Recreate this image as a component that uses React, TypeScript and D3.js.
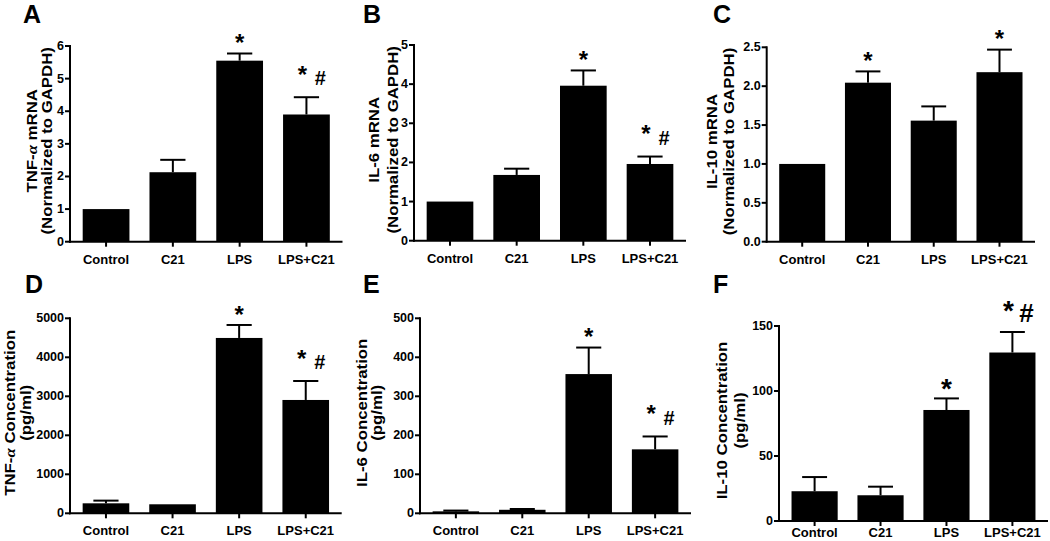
import React from 'react'
import * as d3 from 'd3'

const categories = ['Control', 'C21', 'LPS', 'LPS+C21']

// A: TNF-a mRNA
const tnfMrnaMean = [1.0, 2.13, 5.55, 3.9]
const tnfMrnaSem = [0, 0.38, 0.22, 0.53]
const tnfMrnaSig = ['', '', '*', '*#']
const tnfMrnaTicks = [0, 1, 2, 3, 4, 5, 6]

// B: IL-6 mRNA
const il6MrnaMean = [1.0, 1.68, 3.96, 1.96]
const il6MrnaSem = [0, 0.16, 0.39, 0.19]
const il6MrnaSig = ['', '', '*', '*#']
const il6MrnaTicks = [0, 1, 2, 3, 4, 5]

// C: IL-10 mRNA
const il10MrnaMean = [1.0, 2.045, 1.557, 2.18]
const il10MrnaSem = [0, 0.145, 0.183, 0.29]
const il10MrnaSig = ['', '*', '', '*']
const il10MrnaTicks = [0, 0.5, 1.0, 1.5, 2.0, 2.5]

// D: TNF-a concentration
const tnfConcMean = [256, 231, 4496, 2906]
const tnfConcSem = [69, 0, 333, 487]
const tnfConcSig = ['', '', '*', '*#']
const tnfConcTicks = [0, 1000, 2000, 3000, 4000, 5000]

// E: IL-6 concentration
const il6ConcMean = [5, 9, 357, 164]
const il6ConcSem = [2, 2, 68, 33]
const il6ConcSig = ['', '', '*', '*#']
const il6ConcTicks = [0, 100, 200, 300, 400, 500]

// F: IL-10 concentration
const il10ConcMean = [22.9, 19.8, 85.4, 129.6]
const il10ConcSem = [10.9, 6.6, 8.9, 15.8]
const il10ConcSig = ['', '', '*', '*#']
const il10ConcTicks = [0, 50, 100, 150]

const FONT = '"Liberation Sans", Arial, Helvetica, sans-serif'

const labelLine = (line: string) =>
  line.split(/(α)/).map((part, i) =>
    part === 'α' ? (
      <tspan key={i} fontStyle="italic" fontFamily='"Liberation Serif", serif'>α</tspan>
    ) : (
      <tspan key={i}>{part}</tspan>
    )
  )

const Panel = ({ letter, letterXY, means, sems, sig, ticks, fmt, ylabel, labelX, box, starSize = 24, hashSize = 20, catDy = 22 }: any) => {
  const x = d3.scaleBand().domain(categories).range([box.left, box.right]).paddingInner(0.3).paddingOuter(0.19)
  const y = d3.scaleLinear().domain([0, ticks[ticks.length - 1]]).range([box.bottom, box.top])
  const bw = x.bandwidth()
  const cap = bw * 0.27
  const midY = (box.top + box.bottom) / 2 - 3

  return (
    <g fontFamily={FONT} fontWeight="bold" fill="#000">
      <text x={letterXY[0]} y={letterXY[1]} fontSize={25}>{letter}</text>

      {/* y axis label, stretched along its length like the original */}
      {ylabel.map((line: string, i: number) => (
        <g key={i} transform={`translate(${labelX[i]},${midY}) rotate(-90) scale(1.2,1)`}>
          <text x={0} y={0} fontSize={14} textAnchor="middle" dominantBaseline="central">
            {labelLine(line)}
          </text>
        </g>
      ))}

      {/* bars */}
      {categories.map((c, i) => (
        <rect key={c} x={x(c)} y={y(means[i])} width={bw} height={y(0) - y(means[i])} fill="#000" />
      ))}

      {/* error bars (upper only) */}
      {categories.map((c, i) => {
        if (!sems[i]) return null
        const cx = x(c)! + bw / 2
        const top = y(means[i] + sems[i])
        return (
          <g key={c} stroke="#000" strokeWidth={2}>
            <line x1={cx} x2={cx} y1={y(means[i])} y2={top} />
            <line x1={cx - cap} x2={cx + cap} y1={top} y2={top} />
          </g>
        )
      })}

      {/* significance marks */}
      {categories.map((c, i) => {
        const s = sig[i]
        if (!s) return null
        const cx = x(c)! + bw / 2
        const top = y(means[i] + sems[i])
        if (s === '*') {
          return (
            <text key={c} x={cx} y={top - 16 + starSize * 0.57} fontSize={starSize} textAnchor="middle">*</text>
          )
        }
        return (
          <g key={c}>
            <text x={cx - 4} y={top - 28 + starSize * 0.57} fontSize={starSize} textAnchor="middle">*</text>
            <text x={cx + 14} y={top - 19 + hashSize * 0.36} fontSize={hashSize} textAnchor="middle">#</text>
          </g>
        )
      })}

      {/* axes */}
      <g stroke="#000" strokeWidth={2} fill="none">
        <line x1={box.left} x2={box.left} y1={box.top - 1} y2={box.bottom + 1} />
        <line x1={box.left - 1} x2={box.right} y1={box.bottom} y2={box.bottom} />
        {ticks.map((t: number) => (
          <line key={t} x1={box.left - 5} x2={box.left} y1={y(t)} y2={y(t)} />
        ))}
        {categories.map((c) => (
          <line key={c} x1={x(c)! + bw / 2} x2={x(c)! + bw / 2} y1={box.bottom} y2={box.bottom + 5} />
        ))}
      </g>
      {ticks.map((t: number) => (
        <text key={t} x={box.left - 6} y={y(t)} fontSize={12.5} textAnchor="end" dominantBaseline="central">
          {fmt(t)}
        </text>
      ))}
      {categories.map((c) => (
        <text key={c} x={x(c)! + bw / 2} y={box.bottom + catDy} fontSize={13} textAnchor="middle">{c}</text>
      ))}
    </g>
  )
}

const intFmt = d3.format('d')
const decFmt = d3.format('.1f')

export default function App() {
  return (
    <svg width={1050} height={541} style={{ position: 'absolute', left: 0, top: 0, background: '#fff' }}>
      <Panel letter="A" letterXY={[23, 23]} means={tnfMrnaMean} sems={tnfMrnaSem} sig={tnfMrnaSig}
        ticks={tnfMrnaTicks} fmt={intFmt} ylabel={['TNF-α mRNA', '(Normalized to GAPDH)']}
        labelX={[32, 47]} box={{ left: 70, right: 342.5, top: 46, bottom: 241.7 }} />
      <Panel letter="B" letterXY={[363, 23]} means={il6MrnaMean} sems={il6MrnaSem} sig={il6MrnaSig}
        ticks={il6MrnaTicks} fmt={intFmt} ylabel={['IL-6 mRNA', '(Normalized to GAPDH)']}
        labelX={[374, 393]} box={{ left: 414, right: 686, top: 45, bottom: 240.7 }} />
      <Panel letter="C" letterXY={[713, 23]} means={il10MrnaMean} sems={il10MrnaSem} sig={il10MrnaSig}
        ticks={il10MrnaTicks} fmt={decFmt} ylabel={['IL-10 mRNA', '(Normalized to GAPDH)']}
        labelX={[712, 729]} box={{ left: 766.7, right: 1035, top: 47.3, bottom: 241.7 }} />
      <Panel letter="D" letterXY={[25, 293]} means={tnfConcMean} sems={tnfConcSem} sig={tnfConcSig}
        ticks={tnfConcTicks} fmt={intFmt} ylabel={['TNF-α Concentration', '(pg/ml)']}
        labelX={[10, 26]} box={{ left: 70, right: 341.7, top: 318.3, bottom: 513.3 }} />
      <Panel letter="E" letterXY={[363, 293]} means={il6ConcMean} sems={il6ConcSem} sig={il6ConcSig}
        ticks={il6ConcTicks} fmt={intFmt} ylabel={['IL-6 Concentration', '(pg/ml)']}
        labelX={[362, 377]} box={{ left: 420, right: 691, top: 318.3, bottom: 513.3 }} />
      <Panel letter="F" letterXY={[713, 293]} means={il10ConcMean} sems={il10ConcSem} sig={il10ConcSig}
        ticks={il10ConcTicks} fmt={intFmt} ylabel={['IL-10 Concentration', '(pg/ml)']}
        labelX={[722, 740]} box={{ left: 779, right: 1048, top: 326, bottom: 521 }}
        starSize={28} hashSize={26} catDy={16} />
    </svg>
  )
}
